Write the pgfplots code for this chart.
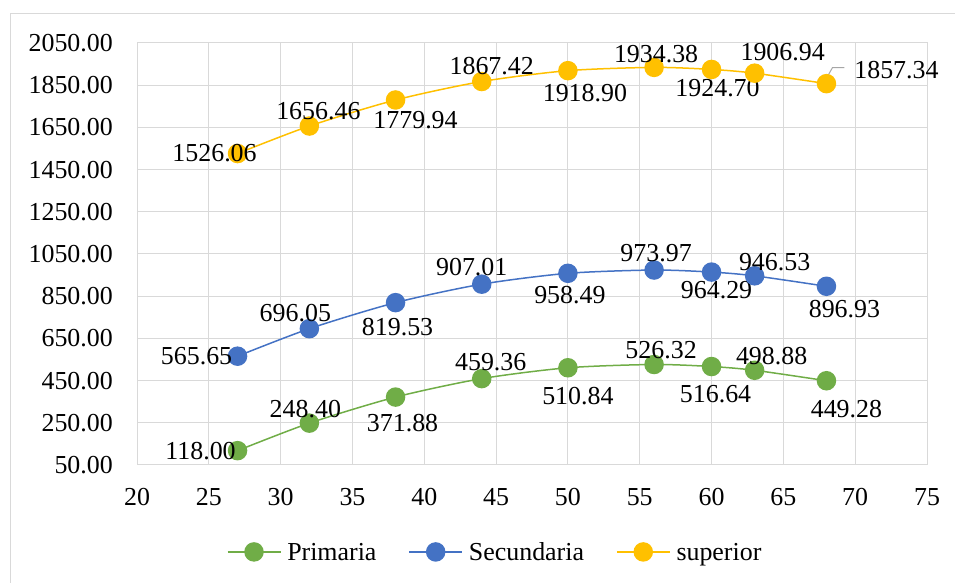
\documentclass[border=0pt]{standalone}
\usepackage{fontspec}
\setmainfont{Liberation Serif}
\usepackage{pgfplots}
\usepackage{pgfplotstable}
\usetikzlibrary{shadows}
\pgfplotsset{compat=1.18}
\definecolor{gridgray}{HTML}{D9D9D9}
\definecolor{cgreen}{HTML}{70AD47}
\definecolor{cblue}{HTML}{4472C4}
\definecolor{cgold}{HTML}{FFC000}
\definecolor{leadgray}{HTML}{A6A6A6}

\pgfplotstableread{
x y lab dx dy
27 118.00 118.00 -37 0
32 248.40 248.40 -4 14
38 371.88 371.88 7 -26
44 459.36 459.36 9 17
50 510.84 510.84 10 -28
56 526.32 526.32 7 14
60 516.64 516.64 4 -28
63 498.88 498.88 17 14
68 449.28 449.28 20 -28
}\primaria

\pgfplotstableread{
x y lab dx dy
27 565.65 565.65 -41 0
32 696.05 696.05 -14 16
38 819.53 819.53 2 -24
44 907.01 907.01 -10 17
50 958.49 958.49 2 -22
56 973.97 973.97 2 17
60 964.29 964.29 5 -18
63 946.53 946.53 20 14
68 896.93 896.93 18 -23
}\secundaria

\pgfplotstableread{
x y lab dx dy
27 1526.06 1526.06 -23 0
32 1656.46 1656.46 9 15
38 1779.94 1779.94 20 -20
44 1867.42 1867.42 10 15
50 1918.90 1918.90 17 -22
56 1934.38 1934.38 2 13
60 1924.70 1924.70 6 -19
63 1906.94 1906.94 28 21
68 1857.34 1857.34 70 14
}\superior

\begin{document}
\fontsize{26}{31}\selectfont
\begin{tikzpicture}
\path[use as bounding box] (0bp,0bp) rectangle (955bp,583bp);
\draw[gridgray, line width=1bp] (10bp,569bp) rectangle (960bp,-5bp);
\begin{axis}[
  at={(137bp,118bp)}, anchor=south west,
  scale only axis, width=790bp, height=422bp,
  xmin=20, xmax=75, ymin=50, ymax=2050,
  xtick={20,25,...,75}, ytick={50,250,...,2050},
  grid=major,
  major grid style={draw=gridgray, line width=1bp},
  axis line style={draw=gridgray, line width=1bp},
  tick style={draw=none},
  /pgf/number format/assume math mode=true,
  yticklabel style={/pgf/number format/.cd, fixed, fixed zerofill, precision=2, 1000 sep={}, /tikz/.cd, inner sep=0pt, anchor=east, xshift=-24bp},
  xticklabel style={inner sep=0pt, anchor=north, yshift=-23bp},
  legend columns=3,
  legend style={draw=none, fill=none, at={(0.452,-0.206)}, anchor=center,
    /tikz/every even column/.append style={column sep=32bp},
    nodes={inner sep=0pt, text depth=0pt}},
  legend image code/.code={\draw[mark repeat=2,mark phase=2,#1] plot coordinates {(0bp,0bp) (26.5bp,0bp) (53bp,0bp)};},
  every axis plot/.append style={line width=1.5bp, mark=*, mark size=9bp, smooth, tension=0.45},
  nodes near coords,
  point meta=explicit symbolic,
  visualization depends on={\thisrow{dx} \as \ldx},
  visualization depends on={\thisrow{dy} \as \ldy},
  every node near coord/.append style={anchor=center, inner sep=0pt, text=black, xshift=\ldx bp, yshift=\ldy bp, font=\fontsize{26}{31}\selectfont},
]
\addplot[color=cgreen, mark options={fill=cgreen, draw=cgreen, drop shadow={opacity=0.2, shadow xshift=0.5bp, shadow yshift=-2.5bp, fill=black}}] table[x=x, y=y, meta=lab] {\primaria};
\addlegendentry{\hspace{6bp}Primaria}
\addplot[color=cblue, mark options={fill=cblue, draw=cblue, drop shadow={opacity=0.2, shadow xshift=0.5bp, shadow yshift=-2.5bp, fill=black}}] table[x=x, y=y, meta=lab] {\secundaria};
\addlegendentry{\hspace{6bp}Secundaria}
\addplot[color=cgold, mark options={fill=cgold, draw=cgold, drop shadow={opacity=0.2, shadow xshift=0.5bp, shadow yshift=-2.5bp, fill=black}}] table[x=x, y=y, meta=lab] {\superior};
\addlegendentry{\hspace{6bp}superior}
\draw[leadgray, line width=1bp] ([xshift=2bp,yshift=9bp]axis cs:68,1857.34) -- ([xshift=6bp,yshift=16bp]axis cs:68,1857.34) -- ([xshift=18bp,yshift=16bp]axis cs:68,1857.34);
\end{axis}
\end{tikzpicture}
\end{document}
